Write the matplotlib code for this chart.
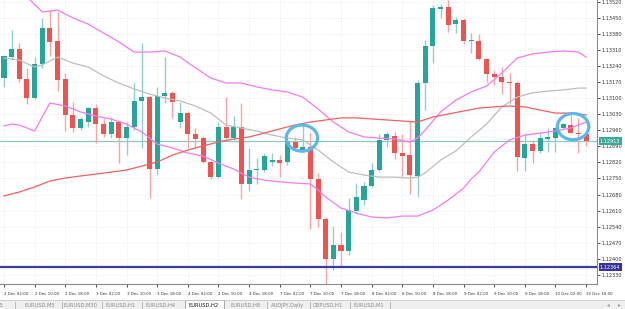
import matplotlib
matplotlib.use("Agg")
import matplotlib.pyplot as plt
from matplotlib.patches import Ellipse, Rectangle
import matplotlib.transforms as mtrans

# ---------------- data ----------------
opens = [1.13188,1.13279,1.13314,1.13184,1.13101,1.13249,1.13406,1.13349,1.13184,1.13027,
         1.12970,1.12996,1.13057,1.12987,1.12942,1.12996,1.12926,1.12974,1.13088,1.13105,
         1.12791,1.13109,1.13123,1.12996,1.13035,1.12944,1.12926,1.12822,1.12756,1.12974,
         1.12926,1.12974,1.12726,1.12787,1.12787,1.12822,1.12830,1.12822,1.12909,1.12870,
         1.12887,1.12748,1.12573,1.12399,1.12460,1.12434,1.12608,1.12656,1.12717,1.12787,
         1.12918,1.12935,1.12861,1.12852,1.12761,1.13166,1.13327,1.13489,1.13497,1.13423,
         1.13441,1.13349,1.13349,1.13271,1.13206,1.13192,1.13170,1.13166,1.12839,1.12900,
         1.12870,1.12922,1.12926,1.12970,1.12983,1.12948,1.12942]
highs = [1.13288,1.13397,1.13341,1.13232,1.13279,1.13450,1.13484,1.13476,1.13210,1.13083,
         1.13018,1.13063,1.13075,1.13014,1.13018,1.13005,1.12996,1.13166,1.13341,1.13109,
         1.13149,1.13279,1.13131,1.13083,1.13044,1.12970,1.12935,1.12826,1.12996,1.13105,
         1.13022,1.13079,1.12883,1.12839,1.12861,1.12861,1.12852,1.12918,1.12931,1.12987,
         1.12948,1.12774,1.12582,1.12543,1.12517,1.12665,1.12730,1.12735,1.12817,1.12942,
         1.12953,1.12953,1.12942,1.13000,1.13179,1.13354,1.13506,1.13511,1.13530,1.13454,
         1.13450,1.13384,1.13380,1.13275,1.13223,1.13236,1.13210,1.13175,1.12948,1.12918,
         1.12948,1.12970,1.12974,1.12992,1.13027,1.13014,1.12948]
lows = [1.13149,1.13266,1.13170,1.13075,1.13096,1.13232,1.13284,1.13131,1.12957,1.12953,
        1.12961,1.12974,1.12905,1.12931,1.12926,1.12817,1.12852,1.12961,1.12883,1.12665,
        1.12765,1.13079,1.13014,1.12970,1.12883,1.12887,1.12817,1.12748,1.12752,1.12922,
        1.12918,1.12660,1.12695,1.12726,1.12778,1.12804,1.12756,1.12809,1.12874,1.12865,
        1.12530,1.12538,1.12290,1.12351,1.12364,1.12416,1.12595,1.12634,1.12713,1.12782,
        1.12887,1.12835,1.12761,1.12682,1.12669,1.13048,1.13253,1.13450,1.13388,1.13384,
        1.13336,1.13297,1.13266,1.13170,1.13157,1.13118,1.13075,1.12782,1.12782,1.12817,
        1.12861,1.12865,1.12865,1.12966,1.12948,1.12861,1.12892]
closes = [1.13284,1.13314,1.13184,1.13101,1.13249,1.13406,1.13345,1.13179,1.13027,1.12970,
          1.13009,1.13057,1.12987,1.12942,1.12996,1.12926,1.12974,1.13088,1.13105,1.12791,
          1.13109,1.13123,1.13083,1.13035,1.12944,1.12922,1.12822,1.12756,1.12974,1.12926,
          1.12974,1.12726,1.12787,1.12791,1.12848,1.12830,1.12817,1.12909,1.12883,1.12887,
          1.12748,1.12573,1.12399,1.12460,1.12434,1.12612,1.12669,1.12717,1.12787,1.12918,
          1.12942,1.12861,1.12848,1.12765,1.13166,1.13327,1.13493,1.13497,1.13419,1.13441,
          1.13349,1.13354,1.13271,1.13206,1.13192,1.13170,1.13166,1.12844,1.12900,1.12870,
          1.12926,1.12931,1.12970,1.12987,1.12948,1.12942,1.12913]

upper_idx = [0,3,5,7,9,11,13,15,17,19,21,23,25,27,29,31,33,35,37,39,41,43,45,47,49,51,53,54,55,57,
             59,61,63,65,67,69,71,73,75,76]
upper_val = [1.13615,1.13541,1.13476,1.13484,1.13450,1.13423,1.13384,1.13345,1.13301,1.13301,
             1.13306,1.13279,1.13232,1.13188,1.13166,1.13166,1.13149,1.13136,1.13127,1.13105,
             1.13053,1.12996,1.12953,1.12931,1.12926,1.12922,1.12909,1.12926,1.12961,1.13040,
             1.13092,1.13127,1.13153,1.13210,1.13275,1.13293,1.13301,1.13306,1.13301,1.13279]

lower_idx = [0,1,2,4,6,8,10,12,14,16,18,20,22,24,26,28,30,32,34,36,38,40,41,42,44,46,48,50,52,54,
             56,58,60,61,62,64,66,68,70,72,74,76]
lower_val = [1.12979,1.12987,1.12983,1.12957,1.13079,1.13066,1.13040,1.13022,1.13009,1.12987,
             1.12953,1.12900,1.12883,1.12861,1.12848,1.12817,1.12791,1.12756,1.12743,1.12735,
             1.12730,1.12726,1.12700,1.12669,1.12621,1.12599,1.12582,1.12578,1.12586,1.12586,
             1.12612,1.12656,1.12708,1.12748,1.12778,1.12865,1.12918,1.12939,1.12948,1.12957,
             1.12970,1.12996]

mid_idx = [0,2,4,5,7,9,11,13,15,17,19,21,23,25,27,29,31,33,35,37,39,41,43,45,47,49,51,53,54,55,
           57,59,61,63,65,67,69,71,73,75,76]
mid_val = [1.13275,1.13266,1.13236,1.13245,1.13279,1.13253,1.13236,1.13197,1.13166,1.13140,
           1.13118,1.13101,1.13088,1.13066,1.13035,1.12983,1.12970,1.12957,1.12939,1.12926,
           1.12918,1.12874,1.12822,1.12778,1.12765,1.12756,1.12756,1.12752,1.12756,1.12774,
           1.12830,1.12870,1.12931,1.12987,1.13062,1.13105,1.13123,1.13131,1.13136,1.13144,1.13144]

slow_idx = [0,2,4,6,8,10,12,14,16,18,20,22,24,26,28,30,32,34,36,38,40,42,44,46,50,54,
            56,58,60,62,64,66,68,70,72,74,76]
slow_val = [1.12674,1.12691,1.12713,1.12739,1.12752,1.12761,1.12769,1.12778,1.12787,1.12804,
            1.12822,1.12852,1.12874,1.12892,1.12909,1.12922,1.12931,1.12948,1.12966,1.12983,
            1.12996,1.13005,1.13014,1.13014,1.13005,1.12996,1.13018,1.13031,1.13044,1.13057,
            1.13062,1.13066,1.13062,1.13048,1.13035,1.13035,1.13027]

price_ticks = [1.12330,1.12400,1.12470,1.12540,1.12610,1.12680,1.12750,1.12820,1.12890,
               1.12960,1.13030,1.13100,1.13170,1.13240,1.13310,1.13380,1.13450,1.13520]
date_tick_idx = [0,4,8,12,16,20,24,28,32,36,40,44,48,52,56,60,64,68,72,76]
date_labels = ["2 Dec 02:00","2 Dec 10:00","2 Dec 18:00","3 Dec 02:00","3 Dec 10:00",
               "3 Dec 18:00","4 Dec 02:00","4 Dec 10:00","4 Dec 18:00","7 Dec 02:00",
               "7 Dec 10:00","7 Dec 18:00","8 Dec 02:00","8 Dec 10:00","8 Dec 18:00",
               "9 Dec 02:00","9 Dec 10:00","9 Dec 18:00","10 Dec 02:00","10 Dec 10:00"]

last_price = 1.12913
support_level = 1.12364
circle_idx = [38.9, 74.3]
circle_price = [1.12926, 1.12976]

tab_names = ["EURUSD,M15","EURUSD,M5","EURUSD,M30","EURUSD,H1","EURUSD,H4","EURUSD,H2",
             "EURUSD,H8","AUDJPY,Daily","GBPUSD,H1","EURUSD,M1"]
active_tab = "EURUSD,H2"

# ---------------- figure ----------------
W, H = 625, 309
fig = plt.figure(figsize=(W/100, H/100), dpi=100)
fig.patch.set_facecolor("white")
ax = fig.add_axes([0, 25/H, 597/W, 284/H])
ax.set_xlim(-0.52, 77.42)
ax.set_ylim(1.12290, 1.13528)

bull, bear = "#26a69a", "#ef5350"
bull_w, bear_w = "#8fd1c9", "#f6a5a4"
n = len(opens)
xs = list(range(n))
for i in xs:
    o, h, l, c = opens[i], highs[i], lows[i], closes[i]
    up = c >= o
    ax.vlines(i, l, h, color=bull_w if up else bear_w, lw=1.0, zorder=2)
    body = max(abs(c - o), 0.00003)
    ax.bar(i, body, bottom=min(o, c), width=0.66, color=bull if up else bear,
           linewidth=0, zorder=3)

ax.plot(upper_idx, upper_val, color="#f57af5", lw=0.9, zorder=4)
ax.plot(lower_idx, lower_val, color="#f57af5", lw=0.9, zorder=4)
ax.plot(mid_idx, mid_val, color="#bdbdbd", lw=0.9, zorder=4)
ax.plot(slow_idx, slow_val, color="#f26060", lw=0.9, zorder=4)

ax.axhline(last_price, color="#8cc8bc", lw=0.9, zorder=1)
ax.axhline(support_level, color="#3b3ba8", lw=1.6, zorder=5)

for cx, cy in zip(circle_idx, circle_price):
    ax.add_patch(Ellipse((cx, cy), 4.1, 0.00114, fill=False, ec="#5cb8ea", lw=2.3, zorder=6))

# grid
for t in price_ticks:
    ax.axhline(t, color="#e4e4e4", lw=0.6, ls=(0, (1, 2)), zorder=0)
for t in date_tick_idx:
    ax.axvline(t, color="#e4e4e4", lw=0.6, ls=(0, (1, 2)), zorder=0)

for s in ["left", "top"]:
    ax.spines[s].set_visible(False)
for s in ["right", "bottom"]:
    ax.spines[s].set_color("#8a8a8a")
    ax.spines[s].set_linewidth(0.8)

ax.yaxis.tick_right()
ax.set_yticks(price_ticks)
ax.set_yticklabels(["%.5f" % t for t in price_ticks])
ax.tick_params(axis="y", length=2, width=0.6, pad=1.2, labelsize=3.6, colors="#333333")
ax.set_xticks(date_tick_idx)
ax.set_xticklabels(date_labels, ha="left")
ax.tick_params(axis="x", length=2, width=0.6, pad=3.5, labelsize=2.9, colors="#333333")

# price tags
tr = mtrans.blended_transform_factory(ax.transAxes, ax.transData)
ax.text(1.005, last_price, "%.5f" % last_price, transform=tr, fontsize=3.6, color="white",
        va="center", ha="left", zorder=10, clip_on=False,
        bbox=dict(boxstyle="square,pad=0.25", fc="#3aa99b", ec="none"))
ax.text(1.005, support_level, "%.5f" % support_level, transform=tr, fontsize=3.6, color="white",
        va="center", ha="left", zorder=10, clip_on=False,
        bbox=dict(boxstyle="square,pad=0.25", fc="#34349c", ec="none"))

# tab bar
tb = fig.add_axes([0, 0, 1, 9/H])
tb.set_xlim(0, W)
tb.set_ylim(9, 0)
tb.axis("off")
tb.add_patch(Rectangle((0, 0), W, 9, fc="#efefef", ec="none"))
tb.plot([0, W], [0.3, 0.3], color="#c8c8c8", lw=0.6)
tab_centers = [-14, 40, 80, 121, 161, 204, 246, 288, 328, 369]
seps = [15, 62, 102, 142, 267, 310, 350, 390]
for xsep in seps:
    tb.plot([xsep, xsep], [2, 8], color="#b0b0b0", lw=0.6)
tb.add_patch(Rectangle((185, 0.3), 39, 9, fc="white", ec="#9a9a9a", lw=0.6))
for name, xc in zip(tab_names, tab_centers):
    act = name == active_tab
    tb.text(xc, 5, name, fontsize=3.7, ha="center", va="center",
            color="#111111" if act else "#8a8a8a")
tb.text(608, 5, "\u25c2", fontsize=4, ha="center", va="center", color="#9a9a9a")
tb.text(619, 5, "\u25b8", fontsize=4, ha="center", va="center", color="#9a9a9a")

fig.savefig("out.png", dpi=100)
